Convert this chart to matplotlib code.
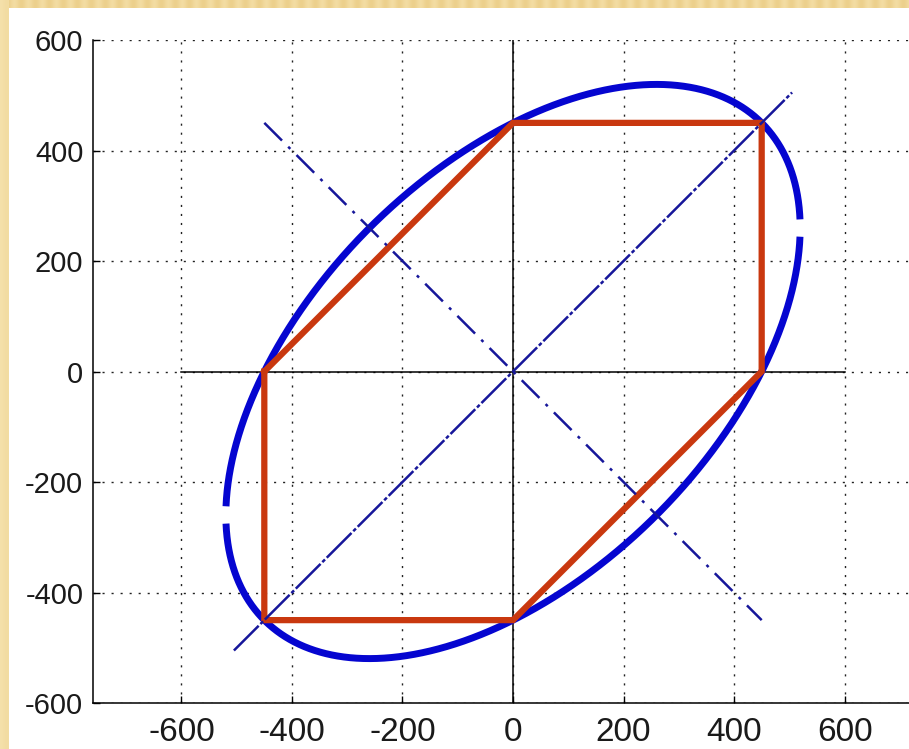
import numpy as np
import matplotlib
matplotlib.use("Agg")
import matplotlib.pyplot as plt
from matplotlib import font_manager

# Yield stress (MPa) shared by both criteria
yield_stress = 450.0

# Tresca hexagon vertices in the principal-stress plane
hex_x = [-450, 0, 450, 450, 0, -450, -450]
hex_y = [0, 450, 450, 0, -450, -450, 0]

# Principal-axis guide lines (sigma2 = sigma1 and sigma2 = -sigma1)
diag_x = [-505, 505]
diag_y = [-505, 505]
anti_x = [-450, 450]
anti_y = [450, -450]

# Axis ticks
xticks = [-600, -400, -200, 0, 200, 400, 600]
yticks = [-600, -400, -200, 0, 200, 400, 600]

# von Mises ellipse: s1^2 - s1*s2 + s2^2 = sy^2, sampled in sigma1 on two branches
s1_limit = 519.3
s1 = np.arange(-s1_limit, s1_limit + 0.05, 0.1)
root = np.sqrt(np.clip(4 * yield_stress**2 - 3 * s1**2, 0, None))
upper = (s1 + root) / 2
lower = (s1 - root) / 2

W, H = 909, 749
fig = plt.figure(figsize=(W / 100, H / 100), dpi=100)

# Slide backdrop: golden striped border with white panel
bg = fig.add_axes([0, 0, 1, 1])
bg.set_axis_off()
cols = np.arange(W)
stripe = 0.5 + 0.5 * np.cos(2 * np.pi * cols / 14.0)
base = np.array([236, 208, 140]) / 255.0
light = np.array([248, 230, 180]) / 255.0
row = base[None, :] * (1 - 0.55 * stripe[:, None]) + light[None, :] * (0.55 * stripe[:, None])
img = np.repeat(row[None, :, :], H, axis=0)
img[:, :9, :] = img[:, :9, :] * 0.4 + np.array([246, 228, 176]) / 255.0 * 0.6
img[8:, 9:, :] = 1.0
bg.imshow(img, extent=[0, W, H, 0], aspect="auto", interpolation="nearest")
bg.set_xlim(0, W)
bg.set_ylim(H, 0)

left_px, right_px, top_px, bottom_px = 93, 933, 40, 703
ax = fig.add_axes([left_px / W, 1 - bottom_px / H,
                   (right_px - left_px) / W, (bottom_px - top_px) / H])
ax.set_facecolor("none")
ax.set_xlim(-760, 760)
ax.set_ylim(-600, 600)

ax.set_axisbelow(True)
ax.grid(True, linestyle=(0, (1.5, 5)), linewidth=1.0, color="#222222")

# coordinate axes through the origin
ax.plot([0, 0], [-600, 600], color="black", lw=1.1, zorder=2)
ax.plot([-600, 600], [0, 0], color="black", lw=1.1, zorder=2)

blue = "#0505D0"
ax.plot(s1, upper, color=blue, lw=5.0, solid_capstyle="butt", zorder=3)
ax.plot(s1, lower, color=blue, lw=5.0, solid_capstyle="butt", zorder=3)

ax.plot(hex_x, hex_y, color="#C9380F", lw=4.5, solid_joinstyle="miter", zorder=4)

navy = "#16169A"
ax.plot(diag_x, diag_y, color=navy, lw=1.8, zorder=5,
        dashes=(14, 1.0, 1.5, 1.0))
ax.plot(anti_x, anti_y, color=navy, lw=1.8, zorder=5,
        dashes=(10, 3.5, 1.2, 3.5))

ax.spines["top"].set_visible(False)
ax.spines["right"].set_visible(False)
for s in ("left", "bottom"):
    ax.spines[s].set_linewidth(1.1)

installed = {f.name for f in font_manager.fontManager.ttflist}
if "Liberation Sans Narrow" in installed:
    xfam, xsize = ["Liberation Sans Narrow", "DejaVu Sans"], 27
else:
    xfam, xsize = ["Liberation Sans", "DejaVu Sans"], 24

ax.set_xticks(xticks)
ax.set_yticks(yticks)
ax.set_xticklabels([str(v) for v in xticks], family=xfam, fontsize=xsize, color="#1a1a1a")
ax.set_yticklabels([str(v) for v in yticks],
                   family=["Liberation Sans", "DejaVu Sans"], fontsize=21, color="#1a1a1a")
ax.tick_params(direction="in", length=5, width=1.0, top=False, right=False)
ax.tick_params(axis="x", pad=10)
ax.tick_params(axis="y", pad=7)

fig.savefig("out.png", dpi=100)
